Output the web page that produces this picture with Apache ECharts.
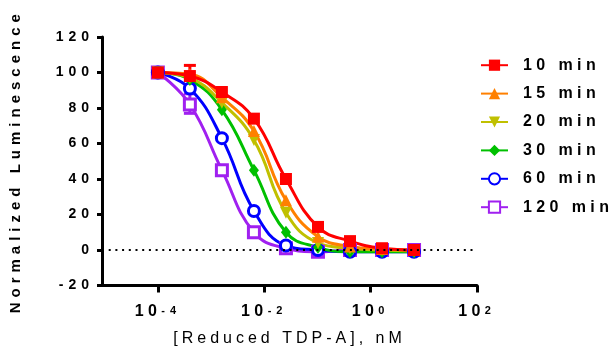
<!DOCTYPE html>
<html><head><meta charset="utf-8">
<style>html,body{margin:0;padding:0;background:#fff}#c{width:611px;height:351px}</style>
<script src="https://cdn.jsdelivr.net/npm/echarts@6/dist/echarts.min.js"></script>
</head><body><div id="c"></div>
<script>
// Letter spacing like the original graphic (applied to canvas text, measured consistently)
(function(){
  var P = CanvasRenderingContext2D.prototype;
  function sp(f){
    var m = /(\d+(?:\.\d+)?)px/.exec(f || ''); var size = m ? parseFloat(m[1]) : 12;
    if (/bold|[6-9]00/.test(f)) return (size >= 16 ? 4.4 : 5) + 'px';
    return '4px';
  }
  ['fillText','strokeText','measureText'].forEach(function(n){
    var o = P[n];
    P[n] = function(){ try{ this.letterSpacing = sp(this.font); }catch(e){} return o.apply(this, arguments); };
  });
})();

// ---- data ----
const concentrations = [0.0001, 0.0004, 0.0016, 0.0064, 0.0256, 0.1024, 0.4096, 1.6384, 6.5536]; // nM
const seriesNames = ['10 min', '15 min', '20 min', '30 min', '60 min', '120 min'];
const lum10  = [100, 98, 89, 74, 40, 13, 5, 1, 0];
const lum15  = [100, 99, 86, 67, 28, 7.5, 2, 0.5, 0];
const lum20  = [100, 97, 83, 62, 21, 4, 1, 0, -0.5];
const lum30  = [100, 96, 79, 45, 10, 1.5, -1, -1, -1];
const lum60  = [100, 91, 63, 22, 2.5, 0, -1, -1, -1];
const lum120 = [100, 82, 45, 10, 1, -1, 0, 0, 0];
const err10  = [[0.0004, 92, 104]];   // [conc, low, high]
const err120 = [[0.0004, 77, 88]];
const xTickExponents = [-4, -2, 0, 2];
const yMin = -20, yMax = 120, yStep = 20;

const values = {'10 min': lum10, '15 min': lum15, '20 min': lum20, '30 min': lum30, '60 min': lum60, '120 min': lum120};
const styles = {
  '10 min':  {color: '#FF0000', symbol: 'rect', size: 12},
  '15 min':  {color: '#FF8000', symbol: 'triangle', size: 12},
  '20 min':  {color: '#C0C000', symbol: 'triangle', size: 12, rotate: 180},
  '30 min':  {color: '#00C000', symbol: 'diamond', size: [10, 13]},
  '60 min':  {color: '#0000FF', symbol: 'circle', size: 11, hollow: true},
  '120 min': {color: '#A020F0', symbol: 'rect', size: 11, hollow: true}
};
const FONT = 'Liberation Sans';
const lx = concentrations.map(c => Math.log10(c));

function lineSeries(name) {
  const s = styles[name];
  return {
    name: name, type: 'line',
    data: values[name].map((v, i) => [lx[i], v]),
    smooth: 0.45,
    symbol: s.symbol, symbolSize: s.size, symbolRotate: s.rotate || 0,
    showSymbol: true,
    lineStyle: {color: s.color, width: 3},
    itemStyle: s.hollow ? {color: '#fff', borderColor: s.color, borderWidth: 3}
                        : {color: s.color, borderWidth: 0},
    emphasis: {disabled: true},
    z: 3
  };
}
function errSeries(name, data) {
  const c = styles[name].color;
  return {
    type: 'custom', name: name + ' err',
    data: data.map(d => [Math.log10(d[0]), d[1], d[2]]),
    renderItem: function(params, api) {
      const p1 = api.coord([api.value(0), api.value(1)]);
      const p2 = api.coord([api.value(0), api.value(2)]);
      const w = 6, st = {stroke: c, lineWidth: 3};
      return {type: 'group', children: [
        {type: 'line', shape: {x1: p1[0], y1: p1[1], x2: p2[0], y2: p2[1]}, style: st},
        {type: 'line', shape: {x1: p1[0] - w, y1: p1[1], x2: p1[0] + w, y2: p1[1]}, style: st},
        {type: 'line', shape: {x1: p2[0] - w, y1: p2[1], x2: p2[0] + w, y2: p2[1]}, style: st}
      ]};
    },
    silent: true, z: 3
  };
}

const series = [];
series.push({
  type: 'line', name: 'zero', data: [], silent: true, z: 1,
  markLine: {silent: true, symbol: 'none', label: {show: false},
    lineStyle: {type: [2, 4.7], width: 2, color: '#000'},
    data: [{yAxis: 0}]}
});
series.push(errSeries('120 min', err120));
seriesNames.slice().reverse().forEach(n => series.push(lineSeries(n)));
series.push(errSeries('10 min', err10));

const chart = echarts.init(document.getElementById('c'), null, {renderer: 'canvas'});
chart.setOption({
  animation: false,
  textStyle: {fontFamily: FONT, color: '#000'},
  grid: {left: 102, right: 134, top: 37, bottom: 65.5, containLabel: false, outerBoundsMode: 'none'},
  legend: {
    orient: 'vertical', left: 480, top: 55, padding: 0,
    itemWidth: 27, itemHeight: 14, itemGap: 8,
    data: seriesNames, selectedMode: false,
    textStyle: {fontFamily: FONT, fontSize: 16, fontWeight: 'bold', color: '#000', padding: [0, 0, 0, 10]}
  },
  xAxis: {
    type: 'value', min: -5.05, max: 2,
    axisLine: {show: true, onZero: false, lineStyle: {color: '#000', width: 3}},
    axisTick: {show: true, customValues: xTickExponents, length: 7, lineStyle: {color: '#000', width: 3}},
    axisLabel: {
      customValues: xTickExponents, margin: 17,
      formatter: v => '{b|10}{s|' + v + '}',
      rich: {
        b: {fontFamily: FONT, fontSize: 16, fontWeight: 'bold', color: '#000', lineHeight: 18},
        s: {fontFamily: FONT, fontSize: 11, fontWeight: 'bold', color: '#000', lineHeight: 9, verticalAlign: 'top'}
      }
    },
    splitLine: {show: false},
    name: '[Reduced TDP-A], nM', nameLocation: 'middle', nameGap: 45,
    nameTextStyle: {fontFamily: FONT, fontSize: 16, color: '#000', lineHeight: 16}
  },
  yAxis: {
    type: 'value', min: yMin, max: yMax, interval: yStep,
    axisLine: {show: true, onZero: false, lineStyle: {color: '#000', width: 3}},
    axisTick: {show: true, length: 5, lineStyle: {color: '#000', width: 3}},
    axisLabel: {fontFamily: FONT, fontSize: 14, fontWeight: 'bold', color: '#000', margin: 8},
    splitLine: {show: false},
    name: 'Normalized Luminescence', nameLocation: 'middle', nameRotate: 90, nameGap: 76,
    nameTextStyle: {fontFamily: FONT, fontSize: 15, fontWeight: 'bold', color: '#000'}
  },
  series: series
});
</script></body></html>
